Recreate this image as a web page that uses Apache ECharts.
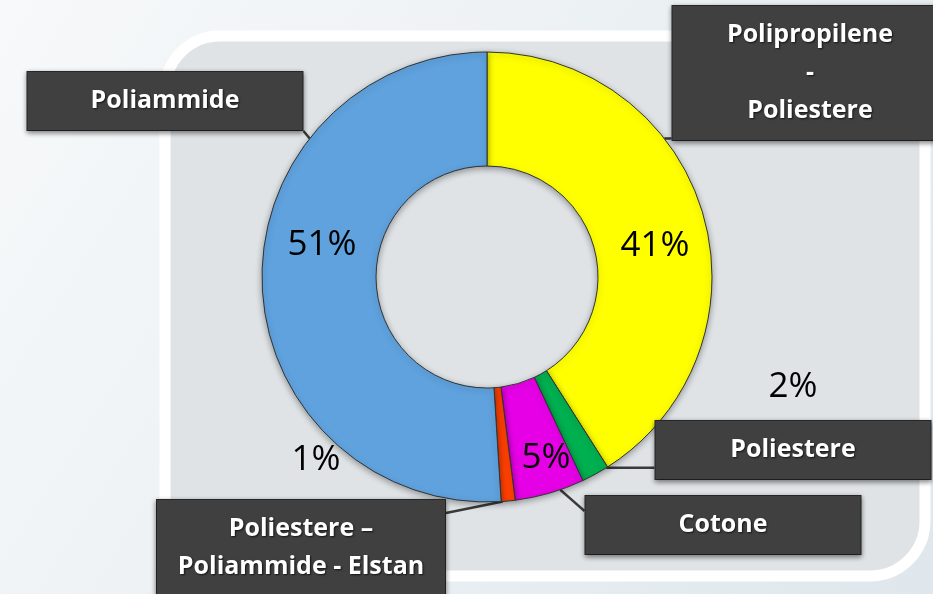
<!DOCTYPE html>
<html><head><meta charset="utf-8">
<script src="https://cdn.jsdelivr.net/npm/echarts/dist/echarts.min.js"></script>
<style>html,body{margin:0;padding:0;overflow:hidden;} #c{width:933px;height:594px;}</style>
</head><body><div id="c"></div>
<script>
// ---- data ----
const categories = ['Polipropilene\n-\nPoliestere', 'Poliestere', 'Cotone', 'Poliestere –\nPoliammide - Elstan', 'Poliammide'];
const values = [41, 2, 5, 1, 51];
// ---- styles / layout ----
const colors = ['#FFFF00', '#00B050', '#E600E6', '#FF4000', '#5FA2DE'];
const boxCenters = [[810, 73], [793, 450], [723, 525], [301, 548], [165, 101]];
const pctCenters = [[655, 246], [793, 387], [546, 458], [316, 460], [322, 245]];
const boxWidths = [255, 255, 255, 268, 255];
const leaderAngles = [52, 148, 161, 176, 308];   // degrees clockwise from top, where leader lines touch the ring
const leaderInsets = [0, 0, 16, 14, 0];          // vertical inset of the attach point on the box
const PIE_CX = 487, PIE_CY = 277, R_IN = 111, R_OUT = 225;

const chart = echarts.init(document.getElementById('c'), null, {renderer: 'canvas'});

const mainData = categories.map((n, i) => ({
  name: n, value: values[i],
  itemStyle: {color: colors[i]},
  label: {width: boxWidths[i]}
}));
const pctData = categories.map((n, i) => ({name: n, value: values[i]}));

function leader(i, rect) {
  const a = leaderAngles[i] * Math.PI / 180;
  const p0 = [PIE_CX + R_OUT * Math.sin(a), PIE_CY - R_OUT * Math.cos(a)];
  const c = boxCenters[i];
  const ins = leaderInsets[i];
  const x1 = c[0] - rect.width / 2, x2 = c[0] + rect.width / 2;
  const y1 = c[1] - rect.height / 2 + ins, y2 = c[1] + rect.height / 2 - ins;
  const p2 = [Math.min(Math.max(p0[0], x1), x2), Math.min(Math.max(p0[1], y1), y2)];
  const p1 = [(p0[0] + p2[0]) / 2, (p0[1] + p2[1]) / 2];
  return [p0, p1, p2];
}

const option = {
  backgroundColor: {
    type: 'linear', x: 0, y: 0, x2: 1, y2: 1,
    colorStops: [{offset: 0, color: '#f7f9fa'}, {offset: 1, color: '#dfe7ec'}]
  },
  animation: false,
  graphic: [{
    type: 'rect', z: -10,
    shape: {x: 165, y: 36, width: 760, height: 540, r: 55},
    style: {fill: '#dfe3e6', stroke: '#ffffff', lineWidth: 11}
  }],
  series: [{
    type: 'pie',
    center: [PIE_CX, PIE_CY],
    radius: [R_IN, R_OUT],
    startAngle: 90,
    clockwise: true,
    avoidLabelOverlap: false,
    silent: true,
    itemStyle: {
      borderColor: '#333333', borderWidth: 1,
      shadowBlur: 6, shadowColor: 'rgba(0,0,0,0.35)', shadowOffsetY: 2
    },
    label: {
      show: true,
      position: 'outside',
      formatter: '{b}',
      color: '#ffffff',
      fontFamily: 'Open Sans',
      fontWeight: 'bold',
      fontSize: 25,
      lineHeight: 38,
      align: 'center',
      backgroundColor: '#404040',
      borderColor: '#2a2a2a',
      borderWidth: 1,
      padding: [10, 10],
      textShadowColor: 'rgba(0,0,0,0.7)',
      textShadowBlur: 2,
      textShadowOffsetX: 1,
      textShadowOffsetY: 1,
      shadowColor: 'rgba(0,0,0,0.45)',
      shadowBlur: 5,
      shadowOffsetY: 2
    },
    labelLine: {
      show: true, length: 10, length2: 10,
      lineStyle: {color: '#3a3a3a', width: 2.5}
    },
    labelLayout: function (p) {
      const c = boxCenters[p.dataIndex];
      return {
        x: c[0], y: c[1], align: 'center', verticalAlign: 'middle',
        labelLinePoints: leader(p.dataIndex, p.labelRect)
      };
    },
    emphasis: {disabled: true},
    data: mainData
  }, {
    type: 'pie',
    center: [PIE_CX, PIE_CY],
    radius: [R_IN, R_OUT],
    startAngle: 90,
    clockwise: true,
    avoidLabelOverlap: false,
    silent: true,
    itemStyle: {color: 'rgba(0,0,0,0)', borderWidth: 0},
    label: {
      show: true,
      position: 'inside',
      formatter: '{d}%',
      color: '#000000',
      fontFamily: 'Open Sans',
      fontSize: 35
    },
    labelLine: {show: false},
    labelLayout: function (p) {
      const c = pctCenters[p.dataIndex];
      return {x: c[0], y: c[1], align: 'center', verticalAlign: 'middle'};
    },
    emphasis: {disabled: true},
    data: pctData
  }]
};
chart.setOption(option);
</script>
</body></html>
